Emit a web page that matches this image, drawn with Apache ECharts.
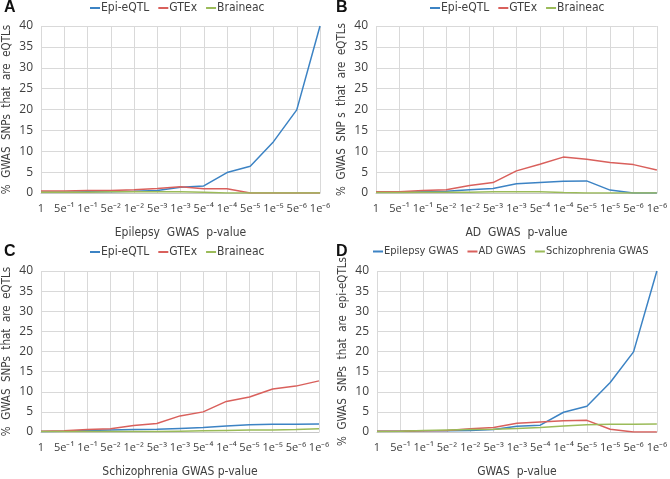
<!DOCTYPE html>
<html><head><meta charset="utf-8">
<script src="https://cdn.jsdelivr.net/npm/echarts@6/dist/echarts.min.js"></script>
<style>html,body{margin:0;padding:0;background:#fff}#c{width:670px;height:479px}</style>
</head><body><div id="c"></div>
<script>
const categories = ['1','5e⁻¹','1e⁻¹','5e⁻²','1e⁻²','5e⁻³','1e⁻³','5e⁻⁴','1e⁻⁴','5e⁻⁵','1e⁻⁵','5e⁻⁶','1e⁻⁶'];
const yTicks = [0,5,10,15,20,25,30,35,40];

// Panel A: Epilepsy
const epiA   = [0.2,0.2,0.3,0.3,0.4,0.6,1.4,1.7,4.9,6.4,12.3,19.9,40];
const gtexA  = [0.5,0.5,0.6,0.6,0.8,1.1,1.5,1.0,1.0,0,0,0,0];
const brainA = [0.2,0.2,0.2,0.3,0.3,0.3,0.3,0.2,0,0,0,0,0];
// Panel B: AD
const epiB   = [0.2,0.2,0.3,0.4,0.8,1.1,2.2,2.5,2.8,2.9,0.7,0,0];
const gtexB  = [0.3,0.3,0.6,0.8,1.8,2.5,5.3,6.9,8.6,8.1,7.3,6.8,5.5];
const brainB = [0.1,0.1,0.2,0.2,0.2,0.3,0.3,0.3,0.1,0,0,0,0];
// Panel C: Schizophrenia
const epiC   = [0.1,0.2,0.4,0.5,0.6,0.7,0.9,1.1,1.5,1.8,1.9,1.9,2.0];
const gtexC  = [0.2,0.3,0.6,0.8,1.6,2.1,4.0,5.0,7.6,8.7,10.7,11.4,12.7];
const brainC = [0.1,0.1,0.1,0.1,0.1,0.1,0.2,0.3,0.4,0.5,0.5,0.6,0.8];
// Panel D: epi-eQTLs by GWAS
const epilepsyD = [0.2,0.2,0.3,0.3,0.4,0.6,1.4,1.7,4.9,6.4,12.3,19.9,40];
const adD       = [0.2,0.2,0.3,0.4,0.8,1.1,2.2,2.5,2.8,2.9,0.7,0,0];
const schizD    = [0.1,0.2,0.4,0.5,0.6,0.7,0.9,1.1,1.5,1.8,1.9,1.9,2.0];

const BLUE='#3c83c4', RED='#d9605c', GREEN='#9bbb59';
const FONT='"DejaVu Sans Condensed", "Open Sans", sans-serif';
const TFONT='"Open Sans", "Liberation Sans", sans-serif';

const panels = [
  {grid:{left:37,right:350,top:26,bottom:286}, xName:'Epilepsy  GWAS  p-value', yName:'%  GWAS  SNPs  that  are  eQTLs', letter:'A', lx:4, ly:0, legend:{left:90,top:2}, lfs:12,
   series:[['Epi-eQTL',epiA,BLUE],['GTEx',gtexA,RED],['Braineac',brainA,GREEN]]},
  {grid:{left:376,right:11,top:26,bottom:286}, xName:'AD  GWAS  p-value', yName:'%  GWAS  SNP s  that  are  eQTLs', letter:'B', lx:336, ly:0, legend:{left:430,top:2}, lfs:12,
   series:[['Epi-eQTL',epiB,BLUE],['GTEx',gtexB,RED],['Braineac',brainB,GREEN]]},
  {grid:{left:37,right:351,top:271,bottom:41}, xName:'Schizophrenia GWAS p-value', yName:'%  GWAS  SNPs  that  are  eQTLs', letter:'C', lx:4, ly:244, legend:{left:90,top:246}, lfs:12,
   series:[['Epi-eQTL',epiC,BLUE],['GTEx',gtexC,RED],['Braineac',brainC,GREEN]]},
  {grid:{left:377,right:11,top:271,bottom:41}, xName:'GWAS  p-value', yName:'%  GWAS  SNPs  that  are  epi-eQTLs', letter:'D', lx:336, ly:244, legend:{left:373,top:246}, lfs:11,
   series:[['Epilepsy GWAS',epilepsyD,BLUE],['AD GWAS',adD,RED],['Schizophrenia GWAS',schizD,GREEN]]}
];

const option = {
  animation:false,
  textStyle:{fontFamily:FONT},
  grid:[], xAxis:[], yAxis:[], series:[], legend:[], graphic:[]
};
panels.forEach((p,i)=>{
  option.grid.push(p.grid);
  option.xAxis.push({
    type:'category', gridIndex:i, data:categories, boundaryGap:false,
    name:p.xName, nameLocation:'middle', nameGap:34,
    nameTextStyle:{color:'#404040',fontSize:12,fontFamily:FONT},
    axisLine:{lineStyle:{color:'#c8c8c8'}}, axisTick:{show:false},
    axisLabel:{color:'#404040',fontSize:11,margin:10,interval:0,fontFamily:TFONT},
    splitLine:{show:true,lineStyle:{color:'#d9d9d9'}}
  });
  option.yAxis.push({
    type:'value', gridIndex:i, min:yTicks[0], max:yTicks[yTicks.length-1], interval:5,
    name:p.yName, nameLocation:'middle', nameGap:28, nameRotate:90,
    nameTextStyle:{color:'#404040',fontSize:11.5,fontFamily:FONT},
    axisLine:{show:false}, axisTick:{show:false},
    axisLabel:{color:'#404040',fontSize:12,margin:8,fontFamily:TFONT},
    splitLine:{show:true,lineStyle:{color:'#d9d9d9'}}
  });
  const names=[];
  p.series.forEach(s=>{
    names.push(s[0]);
    option.series.push({type:'line', name:s[0], xAxisIndex:i, yAxisIndex:i, data:s[1],
      showSymbol:false, symbol:'none', lineStyle:{color:s[2],width:1.5}, itemStyle:{color:s[2]}});
  });
  option.legend.push({data:names, left:p.legend.left, top:p.legend.top, width:300, icon:'rect',
    itemWidth:10, itemHeight:2, itemGap:9, padding:0,
    textStyle:{color:'#404040',fontSize:p.lfs,fontFamily:FONT,padding:[0,0,0,-4]}});
  option.graphic.push({type:'text', left:p.lx, top:p.ly,
    style:{text:p.letter, font:'bold 16px "Liberation Sans", Arial, sans-serif', fill:'#111'}});
});
const chart = echarts.init(document.getElementById('c'),null,{renderer:'canvas'});
chart.setOption(option);
</script></body></html>
